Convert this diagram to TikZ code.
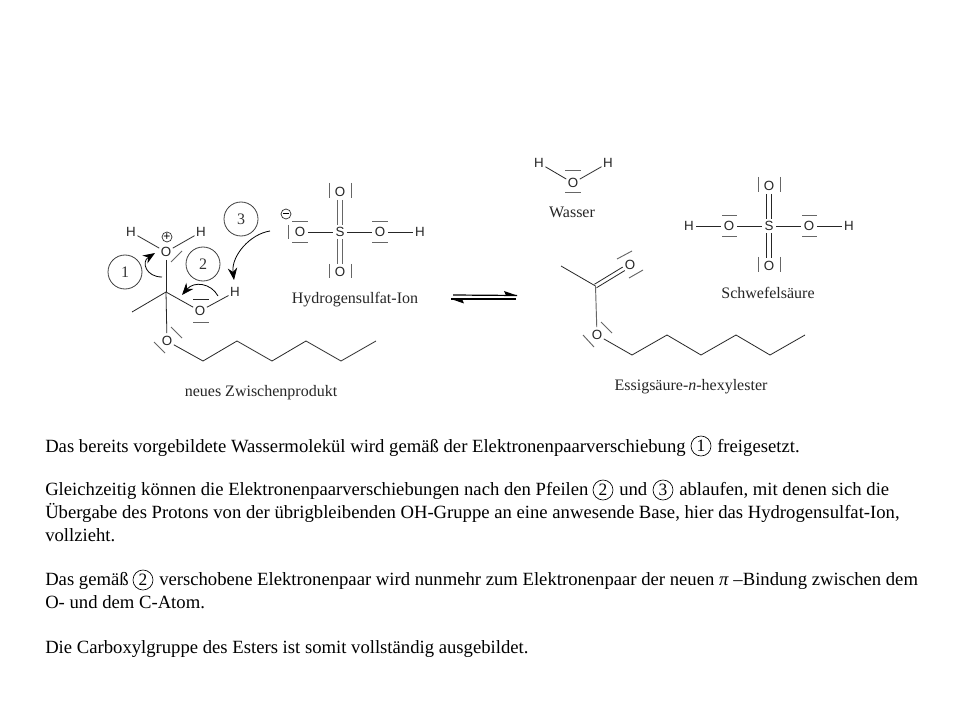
\documentclass[tikz,border=0pt]{standalone}
\usepackage{fontspec}
\setmainfont{Liberation Serif}
\newfontfamily\atomfont{Liberation Sans}
\usetikzlibrary{arrows.meta}
\tikzset{
  x=0.75pt,y=-0.75pt,
  atom/.style={font=\atomfont\fontsize{10}{11}\selectfont,inner sep=0.3pt,text=black!85,circle},
  bond/.style={line width=0.6pt,draw=black!85},
  graybond/.style={line width=0.7pt,draw=black!60},
  pair/.style={line width=0.7pt,draw=black!60},
  pairdark/.style={line width=0.6pt,draw=black!85},
  capt/.style={font=\fontsize{12}{14}\selectfont,text=black!85,inner sep=0pt},
  numc/.style={circle,draw=black!75,line width=0.6pt,minimum size=25.5pt,inner sep=0pt,font=\fontsize{12}{13}\selectfont,text=black!80},
  inlc/.style={circle,draw=black,line width=0.5pt,minimum size=15pt,inner sep=0pt,font=\fontsize{13}{14}\selectfont},
  txt/.style={anchor=base west,inner sep=0pt,font=\fontsize{14}{16}\selectfont},
  curly/.style={line width=0.6pt,draw=black,-{Stealth[length=9pt,width=7pt]}},
  charge/.style={circle,draw=black!85,line width=0.5pt,minimum size=7.5pt,inner sep=0pt,font=\atomfont\fontsize{9}{9}\selectfont}
}
\begin{document}
\begin{tikzpicture}
\useasboundingbox (0,0) rectangle (960,720);
\fill[white] (0,0) rectangle (960,720);

% --- neues Zwischenprodukt ---
\node[atom] (h1) at (131,232) {H};
\node[atom] (o1) at (166,252) {O};
\node[atom] (h2) at (201,232) {H};
\node[charge] (plus) at (167,237) {+};
\coordinate (c1) at (166,292);
\coordinate (me1) at (132,312);
\node[atom] (o2) at (200,311) {O};
\node[atom] (h3) at (235,292) {H};
\node[atom] (o3) at (167,341) {O};
\coordinate (a1) at (203,361);
\coordinate (a2) at (237,341);
\coordinate (a3) at (272,361);
\coordinate (a4) at (306,341);
\coordinate (a5) at (341,361);
\coordinate (a6) at (376,341);
\draw[bond] (h1) -- (o1);
\draw[bond] (o1) -- (h2);
\draw[bond] (o1) -- (c1);
\draw[bond] (c1) -- (me1);
\draw[bond] (c1) -- (o2);
\draw[bond] (o2) -- (h3);
\draw[bond] (c1) -- (o3);
\draw[bond] (o3) -- (a1) -- (a2) -- (a3) -- (a4) -- (a5) -- (a6);
\draw[pair] (171,262) -- (182,251);
\draw[pairdark] (193,299) -- (209,299);
\draw[pair] (193,322) -- (209,322);
\draw[pair] (171,327) -- (182,338);
\draw[pair] (154,342) -- (165,353);
\node[numc] (n1) at (125,272) {1};
\node[numc] (n2) at (203,264) {2};
\node[numc] (n3) at (241,219) {3};
\coordinate (s1) at (162,277);
\coordinate (t1) at (155,253);
\coordinate (s2) at (218,296);
\coordinate (t2) at (182,295);
\coordinate (s3) at (270,231);
\coordinate (t3) at (234,280);
\draw[curly] (s1) .. controls (146,277) and (141,262) .. (t1);
\draw[curly] (s2) .. controls (211,283) and (194,281) .. (t2);
\draw[curly] (s3) .. controls (250,234) and (231,256) .. (t3);
\node[capt] (l1) at (261,393) {neues Zwischenprodukt};

% --- Hydrogensulfat-Ion ---
\node[atom] (ho1) at (300,232) {O};
\node[atom] (hs) at (340,232) {S};
\node[atom] (ho2) at (380,232) {O};
\node[atom] (hh) at (420,232) {H};
\node[atom] (hot) at (340,192) {O};
\node[atom] (hob) at (340,272) {O};
\node[charge] (minus) at (286,214) {\raisebox{0.3pt}{\rule{4.5pt}{0.5pt}}};
\draw[bond] (ho1) -- (hs);
\draw[bond] (hs) -- (ho2);
\draw[bond] (ho2) -- (hh);
\draw[graybond] ([xshift=-1.6pt]hot.south) -- ([xshift=-1.6pt]hs.north);
\draw[graybond] ([xshift=1.6pt]hot.south) -- ([xshift=1.6pt]hs.north);
\draw[graybond] ([xshift=-1.6pt]hs.south) -- ([xshift=-1.6pt]hob.north);
\draw[graybond] ([xshift=1.6pt]hs.south) -- ([xshift=1.6pt]hob.north);
\draw[pair] (329,183) -- (329,198);
\draw[pair] (351,183) -- (351,198);
\draw[pair] (329,264) -- (329,278);
\draw[pair] (351,264) -- (351,278);
\draw[pair] (288,225) -- (288,239);
\draw[pair] (292,221) -- (308,221);
\draw[pair] (292,242) -- (308,242);
\draw[pair] (372,221) -- (388,221);
\draw[pair] (372,242) -- (388,242);
\node[capt] (l2) at (355,300) {Hydrogensulfat-Ion};

% --- Gleichgewichtspfeil ---
\coordinate (e1) at (453,295);
\coordinate (e2) at (517,295.5);
\coordinate (e3) at (516,299);
\coordinate (e4) at (451,299);
\draw[line width=0.9pt] (e1) -- (e2);
\draw[line width=0.9pt] (e3) -- (e4);
\fill (e2) -- (504,291) -- (506,295.5) -- cycle;
\fill (e4) -- (464,303.5) -- (462,299) -- cycle;

% --- Wasser ---
\node[atom] (wh1) at (539,163) {H};
\node[atom] (wo) at (573,183) {O};
\node[atom] (wh2) at (608,163) {H};
\draw[bond] (wh1) -- (wo);
\draw[bond] (wo) -- (wh2);
\draw[pair] (565,170) -- (581,170);
\draw[pair] (565,192) -- (581,192);
\node[capt] (l3) at (572,212) {Wasser};

% --- Schwefelsaeure ---
\node[atom] (sh1) at (689,226) {H};
\node[atom] (so1) at (729,226) {O};
\node[atom] (ss) at (769,226) {S};
\node[atom] (so2) at (809,226) {O};
\node[atom] (sh2) at (849,226) {H};
\node[atom] (sot) at (769,186) {O};
\node[atom] (sob) at (769,266) {O};
\draw[bond] (sh1) -- (so1);
\draw[bond] (so1) -- (ss);
\draw[bond] (ss) -- (so2);
\draw[bond] (so2) -- (sh2);
\draw[bond] ([xshift=-1.6pt]sot.south) -- ([xshift=-1.6pt]ss.north);
\draw[bond] ([xshift=1.6pt]sot.south) -- ([xshift=1.6pt]ss.north);
\draw[bond] ([xshift=-1.6pt]ss.south) -- ([xshift=-1.6pt]sob.north);
\draw[bond] ([xshift=1.6pt]ss.south) -- ([xshift=1.6pt]sob.north);
\draw[pair] (758,177) -- (758,192);
\draw[pair] (780,177) -- (780,192);
\draw[pair] (758,257) -- (758,272);
\draw[pair] (780,257) -- (780,272);
\draw[pair] (722,215) -- (737,215);
\draw[pair] (722,236) -- (737,236);
\draw[pair] (802,215) -- (817,215);
\draw[pair] (802,236) -- (817,236);
\node[capt] (l4) at (768,293) {Schwefelsäure};

% --- Ester ---
\coordinate (ec) at (595.5,286);
\coordinate (eme) at (561,266);
\node[atom] (eo1) at (630,265) {O};
\node[atom] (eo2) at (597,335) {O};
\coordinate (b1) at (632,355);
\coordinate (b2) at (667,335);
\coordinate (b3) at (701,355);
\coordinate (b4) at (736,335);
\coordinate (b5) at (770,355);
\coordinate (b6) at (805,335);
\draw[bond] (ec) -- (eme);
\draw[bond,shorten >=5.5pt] ([shift={(-0.8pt,1.3pt)}]ec) -- ([shift={(-0.8pt,1.3pt)}]eo1.center);
\draw[bond,shorten >=5.5pt] ([shift={(0.8pt,-1.3pt)}]ec) -- ([shift={(0.8pt,-1.3pt)}]eo1.center);
\draw[graybond] (ec) -- (eo2);
\draw[bond] (eo2) -- (b1) -- (b2) -- (b3) -- (b4) -- (b5) -- (b6);
\draw[pair] (617,259) -- (632,251);
\draw[pair] (629,278) -- (643,270);
\draw[pair] (601,322) -- (612,333);
\draw[pair] (583,335) -- (594,347);
\node[capt] (l5) at (691,387) {Essigsäure-\emph{n}-hexylester};

% --- Text ---
\node[txt] (t1a) at (45,452.5) {Das bereits vorgebildete Wassermolekül wird gemäß der Elektronenpaarverschiebung};
\node[inlc] (c1a) at (701,446) {1};
\node[txt] (t1b) at (717,452.5) {freigesetzt.};

\node[txt] (t2a) at (45,495.5) {Gleichzeitig können die Elektronenpaarverschiebungen nach den Pfeilen};
\node[inlc] (c2a) at (603,490) {2};
\node[txt] (t2b) at (619,495.5) {und};
\node[inlc] (c2b) at (663,490) {3};
\node[txt] (t2c) at (679,495.5) {ablaufen, mit denen sich die};

\node[txt] (t3a) at (45,518) {Übergabe des Protons von der übrigbleibenden OH-Gruppe an eine anwesende Base, hier das Hydrogensulfat-Ion,};
\node[txt] (t4a) at (45,541) {vollzieht.};

\node[txt] (t5a) at (45,585) {Das gemäß};
\node[inlc] (c5a) at (143,580) {2};
\node[txt] (t5b) at (159,585) {verschobene Elektronenpaar wird nunmehr zum Elektronenpaar der neuen \emph{π} –Bindung zwischen dem};
\node[txt] (t6a) at (45,608) {O- und dem C-Atom.};
\node[txt] (t7a) at (45,653) {Die Carboxylgruppe des Esters ist somit vollständig ausgebildet.};
\end{tikzpicture}
\end{document}
